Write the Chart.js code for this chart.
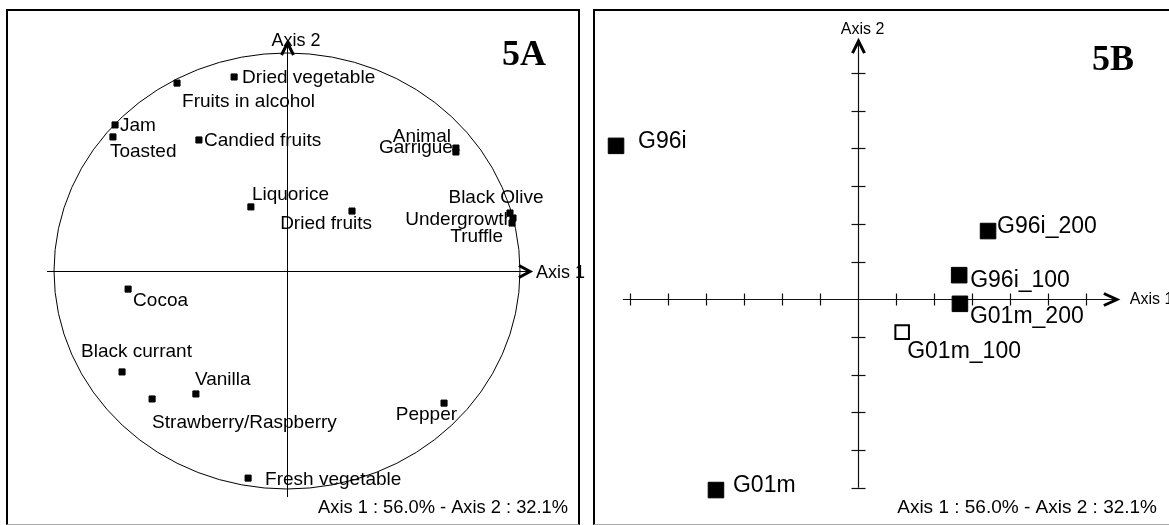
<!DOCTYPE html>
<html>
<head>
<meta charset="utf-8">
<script src="https://cdn.jsdelivr.net/npm/chart.js@4.4.1/dist/chart.umd.min.js"></script>
<style>
html,body{margin:0;padding:0;background:#fff;}
#wrap{position:relative;width:1169px;height:525px;overflow:hidden;background:#fff;}
canvas{position:absolute;top:0;}
#cA{left:0;}
#cB{left:587px;}
.frame{position:absolute;box-sizing:border-box;pointer-events:none;}
#fA{left:6px;top:9px;width:574px;height:516px;border:2px solid #000;border-bottom:1px solid #aaa;}
#fB{left:593px;top:9px;width:620px;height:516px;border:2px solid #000;border-right:none;border-bottom:1px solid #aaa;}
</style>
</head>
<body>
<div id="wrap">
  <canvas id="cA" width="587" height="525"></canvas>
  <canvas id="cB" width="582" height="525"></canvas>
  <div class="frame" id="fA"></div>
  <div class="frame" id="fB"></div>
</div>
<script>
// ---------- DATA ----------
// Panel 5A: aroma descriptors (correlation circle), coordinates on Axis 1 / Axis 2
const aromaNames = ["Fruits in alcohol","Dried vegetable","Jam","Toasted","Candied fruits","Liquorice",
  "Animal","Garrigue","Dried fruits","Black Olive","Undergrowth","Truffle",
  "Cocoa","Black currant","Strawberry/Raspberry","Vanilla","Fresh vegetable","Pepper"];
const aromaAxis1 = [-0.472,-0.227,-0.738,-0.747,-0.378,-0.155,
  0.725,0.725,0.279,0.957,0.970,0.966,
  -0.682,-0.708,-0.579,-0.391,-0.167,0.674];
const aromaAxis2 = [0.862,0.890,0.670,0.615,0.601,0.294,
  0.564,0.546,0.275,0.266,0.243,0.220,
  -0.083,-0.463,-0.587,-0.564,-0.950,-0.606];

// Panel 5B: wines
const wineNames = ["G96i","G96i_200","G96i_100","G01m_200","G01m_100","G01m"];
const wineAxis1 = [-6.36,3.43,2.67,2.69,1.17,-3.73];
const wineAxis2 = [4.07,1.81,0.64,-0.12,-0.87,-5.06];
const wineOpenMarker = [false,false,false,false,true,false];

// Tick marks on panel 5B axes
const ticksAxis1 = [-6,-5,-4,-3,-2,-1,1,2,3,4,5,6];
const ticksAxis2 = [-5,-4,-3,-2,-1,1,2,3,4,5,6];

const axisLabel1 = "Axis 1";
const axisLabel2 = "Axis 2";
const inertiaText = "Axis 1 : 56.0% - Axis 2 : 32.1%";
const panelTitles = ["5A","5B"];

// ---------- STYLE / PLACEMENT ----------
const SANS = '"Liberation Sans", Arial, Helvetica, sans-serif';
const SERIF = '"Liberation Serif", "Times New Roman", serif';
const aromaLabelPos = {
  "Fruits in alcohol":[5,19,'left'], "Dried vegetable":[8,1,'left'], "Jam":[5,1,'left'],
  "Toasted":[-3,15,'left'], "Candied fruits":[5,1,'left'], "Liquorice":[1,-12,'left'],
  "Animal":[-5,-11,'right'], "Garrigue":[-3,-4,'right'], "Dried fruits":[20,13,'right'],
  "Black Olive":[-14,-15,'center'], "Undergrowth":[1,2,'right'], "Truffle":[-9,14,'right'],
  "Cocoa":[5,12,'left'], "Black currant":[-41,-20,'left'], "Strawberry/Raspberry":[0,24,'left'],
  "Vanilla":[-1,-14,'left'], "Fresh vegetable":[17,2,'left'], "Pepper":[13,12,'right']
};
const wineLabelPos = {
  "G96i":[22,-4], "G96i_200":[9,-4], "G96i_100":[11,5],
  "G01m_200":[10,13], "G01m_100":[5,20], "G01m":[17,-4]
};

function chevronRight(ctx, tx, ty, len, half){
  ctx.beginPath(); ctx.moveTo(tx-len, ty-half); ctx.lineTo(tx, ty); ctx.lineTo(tx-len, ty+half); ctx.stroke();
}
function chevronUp(ctx, tx, ty, len, half){
  ctx.beginPath(); ctx.moveTo(tx-half, ty+len); ctx.lineTo(tx, ty); ctx.lineTo(tx+half, ty+len); ctx.stroke();
}

const panelAPlugin = {
  id:'panelA',
  beforeDatasetsDraw(chart){
    const {ctx, scales:{x, y}} = chart;
    const cx = x.getPixelForValue(0), cy = y.getPixelForValue(0);
    const rx = x.getPixelForValue(1) - cx, ry = cy - y.getPixelForValue(1);
    ctx.save();
    ctx.strokeStyle = '#000'; ctx.lineWidth = 1;
    ctx.beginPath(); ctx.ellipse(cx, cy, rx, ry, 0, 0, Math.PI*2); ctx.stroke();
    const xa = x.getPixelForValue(-1.030), xb = x.getPixelForValue(1.043);
    const ya = y.getPixelForValue(-1.037), yb = y.getPixelForValue(1.046);
    ctx.beginPath(); ctx.moveTo(xa, Math.round(cy)+0.5); ctx.lineTo(xb-2, Math.round(cy)+0.5); ctx.stroke();
    ctx.beginPath(); ctx.moveTo(Math.round(cx)+0.5, ya); ctx.lineTo(Math.round(cx)+0.5, yb+2); ctx.stroke();
    ctx.lineWidth = 3; ctx.lineJoin = 'miter'; ctx.lineCap = 'butt';
    chevronRight(ctx, xb, Math.round(cy)+0.5, 11, 6);
    chevronUp(ctx, Math.round(cx)+0.5, yb, 12, 6);
    // labels
    ctx.fillStyle = '#000';
    ctx.font = '19px ' + SANS; ctx.textBaseline = 'middle';
    aromaNames.forEach((n, i) => {
      const px = x.getPixelForValue(aromaAxis1[i]), py = y.getPixelForValue(aromaAxis2[i]);
      const p = aromaLabelPos[n] || [5,0,'left'];
      ctx.textAlign = p[2];
      ctx.fillText(n, px + p[0], py + p[1]);
    });
    ctx.font = '18px ' + SANS;
    ctx.textAlign = 'left'; ctx.fillText(axisLabel1, xb + 6, cy + 2);
    ctx.textAlign = 'center'; ctx.fillText(axisLabel2, cx + 9, yb - 2);
    ctx.textAlign = 'right'; ctx.font = '18.3px ' + SANS;
    ctx.fillText(inertiaText, 568, 508);
    ctx.font = 'bold 36px ' + SERIF; ctx.textBaseline = 'alphabetic'; ctx.textAlign = 'left';
    ctx.fillText(panelTitles[0], 502, 65);
    ctx.restore();
  }
};

const panelBPlugin = {
  id:'panelB',
  beforeDatasetsDraw(chart){
    const {ctx, scales:{x, y}} = chart;
    const cx = Math.round(x.getPixelForValue(0)) + 0.5, cy = Math.round(y.getPixelForValue(0)) + 0.5;
    ctx.save();
    ctx.strokeStyle = '#111'; ctx.lineWidth = 1.2;
    const xa = x.getPixelForValue(-6.18), xb = x.getPixelForValue(6.82);
    const ya = y.getPixelForValue(-5.0), yb = y.getPixelForValue(6.85);
    ctx.beginPath(); ctx.moveTo(xa, cy); ctx.lineTo(xb-2, cy); ctx.stroke();
    ctx.beginPath(); ctx.moveTo(cx, ya); ctx.lineTo(cx, yb+2); ctx.stroke();
    ticksAxis1.forEach(t => {
      const px = Math.round(x.getPixelForValue(t)) + 0.5;
      ctx.beginPath(); ctx.moveTo(px, cy-6); ctx.lineTo(px, cy+6); ctx.stroke();
    });
    ticksAxis2.forEach(t => {
      const py = Math.round(y.getPixelForValue(t)) + 0.5;
      ctx.beginPath(); ctx.moveTo(cx-7, py); ctx.lineTo(cx+7, py); ctx.stroke();
    });
    ctx.strokeStyle = '#000'; ctx.lineWidth = 3; ctx.lineJoin = 'miter';
    chevronRight(ctx, xb, cy, 13, 6);
    chevronUp(ctx, cx, yb, 12, 6);
    ctx.fillStyle = '#000'; ctx.textBaseline = 'middle';
    ctx.font = '23px ' + SANS; ctx.textAlign = 'left';
    wineNames.forEach((n, i) => {
      const px = x.getPixelForValue(wineAxis1[i]), py = y.getPixelForValue(wineAxis2[i]);
      const p = wineLabelPos[n] || [10,0];
      ctx.fillText(n, px + p[0], py + p[1]);
    });
    ctx.font = '16px ' + SANS;
    ctx.textAlign = 'left'; ctx.fillText(axisLabel1, xb + 13, cy);
    ctx.textAlign = 'center'; ctx.fillText(axisLabel2, cx + 4, yb - 11);
    ctx.font = '19px ' + SANS; ctx.textAlign = 'right';
    ctx.fillText(inertiaText, 1157 - 587, 508);
    ctx.font = 'bold 36px ' + SERIF; ctx.textBaseline = 'alphabetic'; ctx.textAlign = 'left';
    ctx.fillText(panelTitles[1], 1092 - 587, 70);
    ctx.restore();
  }
};

const common = {
  responsive:false, animation:false, devicePixelRatio:1,
  layout:{padding:0, autoPadding:false},
  plugins:{legend:{display:false}, tooltip:{enabled:false}},
  events:[]
};

new Chart(document.getElementById('cA'), {
  type:'scatter',
  data:{datasets:[{
    data: aromaNames.map((n,i)=>({x:aromaAxis1[i], y:aromaAxis2[i]})),
    pointStyle:'rect', pointRadius:4.3, pointBorderWidth:1,
    backgroundColor:'#000', borderColor:'#000'
  }]},
  options:Object.assign({}, common, {
    scales:{
      x:{type:'linear', display:false, min:-1.2318, max:1.2876},
      y:{type:'linear', display:false, min:-1.1651, max:1.2431}
    }
  }),
  plugins:[panelAPlugin]
});

const filled = [], open = [];
wineNames.forEach((n,i)=>{
  (wineOpenMarker[i] ? open : filled).push({x:wineAxis1[i], y:wineAxis2[i]});
});
new Chart(document.getElementById('cB'), {
  type:'scatter',
  data:{datasets:[
    {data:filled, pointStyle:'rect', pointRadius:11, pointBorderWidth:1, backgroundColor:'#000', borderColor:'#000'},
    {data:open, pointStyle:'rect', pointRadius:9.6, pointBorderWidth:2, backgroundColor:'#fff', borderColor:'#000'}
  ]},
  options:Object.assign({}, common, {
    scales:{
      x:{type:'linear', display:false, min:-7.124, max:8.192},
      y:{type:'linear', display:false, min:-5.987, max:7.939}
    }
  }),
  plugins:[panelBPlugin]
});
</script>
</body>
</html>
